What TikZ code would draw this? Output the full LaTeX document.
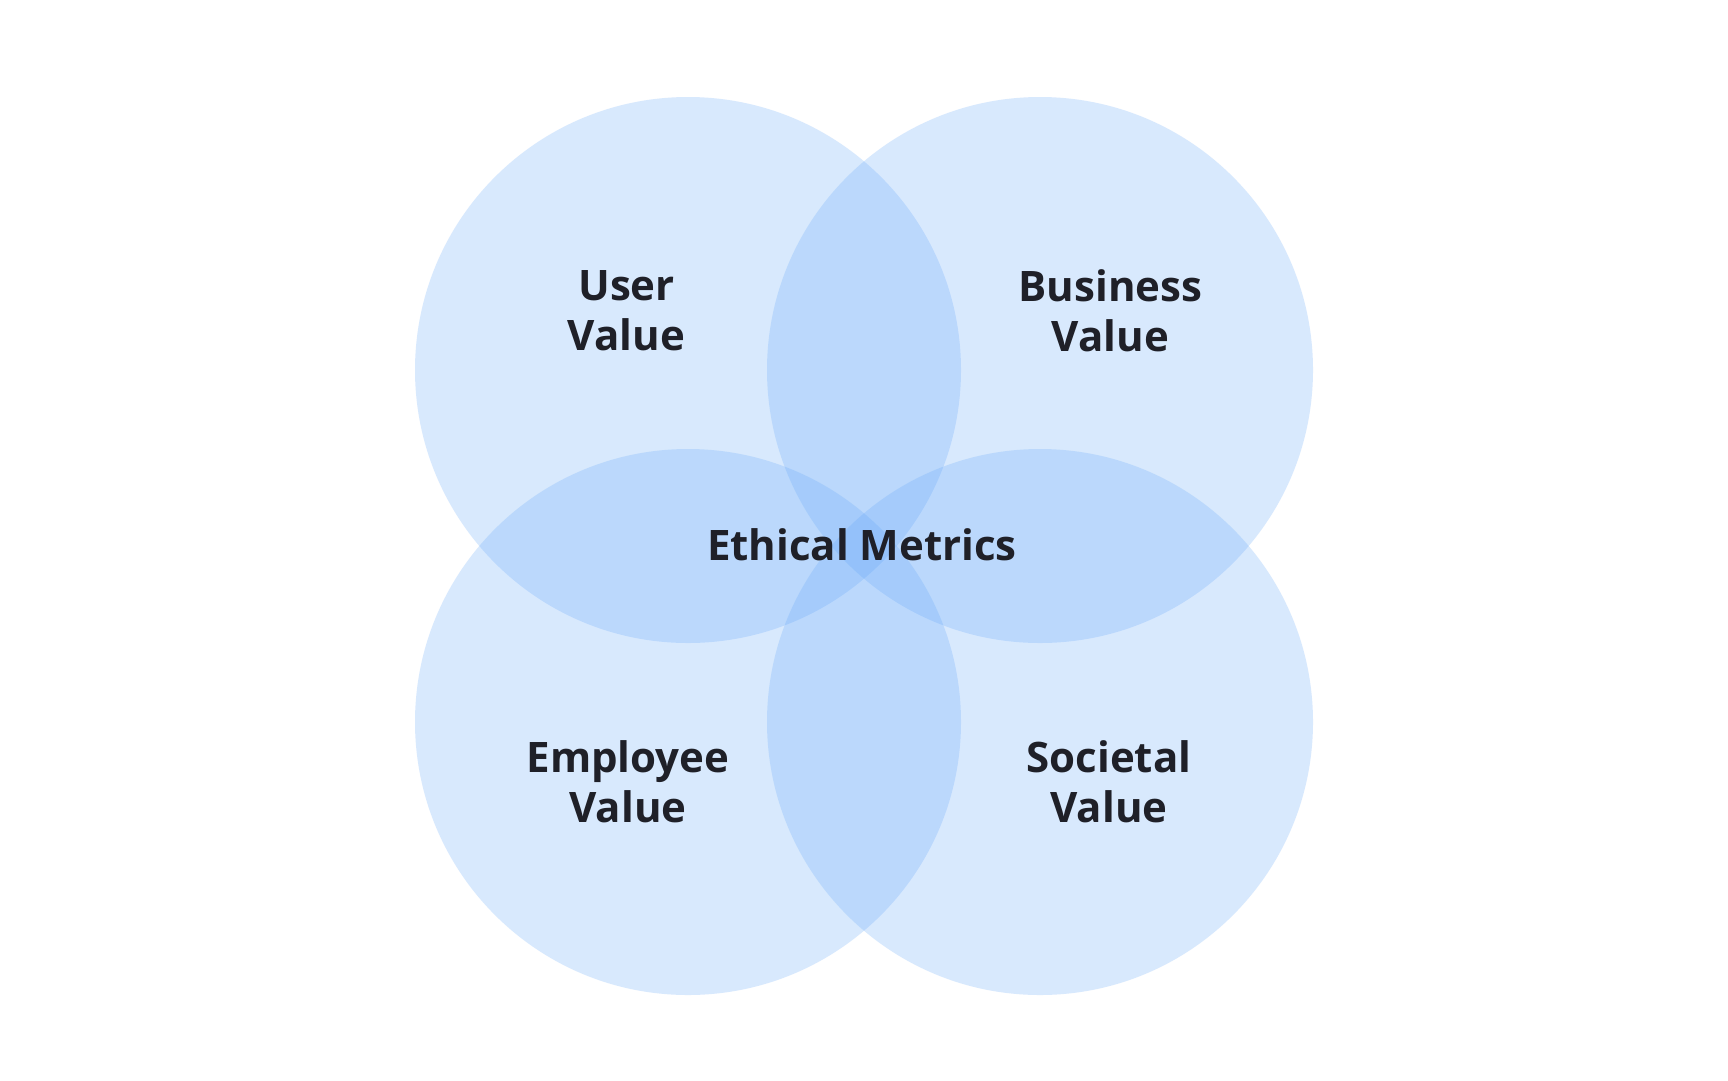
\documentclass[tikz,border=0pt]{standalone}
\usepackage{fontspec}
\setmainfont{Open Sans}
\definecolor{circfill}{HTML}{60A5FA}
\definecolor{labeltext}{RGB}{31,32,40}
\tikzset{
  venn/.style={fill=circfill, fill opacity=0.24, draw=none},
  lbl/.style={text=labeltext, font=\fontsize{42}{50}\selectfont\bfseries, align=center, inner sep=0pt, anchor=center}
}
\begin{document}
\begin{tikzpicture}[x=1pt,y=-1pt]
\fill[white] (0,0) rectangle (1728,1080);
\useasboundingbox (0,0) rectangle (1728,1080);
\fill[venn] (688,370) circle[radius=273];
\fill[venn] (1040,370) circle[radius=273];
\fill[venn] (688,722) circle[radius=273];
\fill[venn] (1040,722) circle[radius=273];
\node[lbl] (user) at (626.5,311) {User\\Value};
\node[lbl] (business) at (1110.5,311) {Business\\Value};
\node[lbl] (employee) at (628,781.5) {Employee\\Value};
\node[lbl] (societal) at (1109,781.5) {Societal\\Value};
\node[lbl] (ethical) at (862,545) {Ethical Metrics};
\end{tikzpicture}
\end{document}
